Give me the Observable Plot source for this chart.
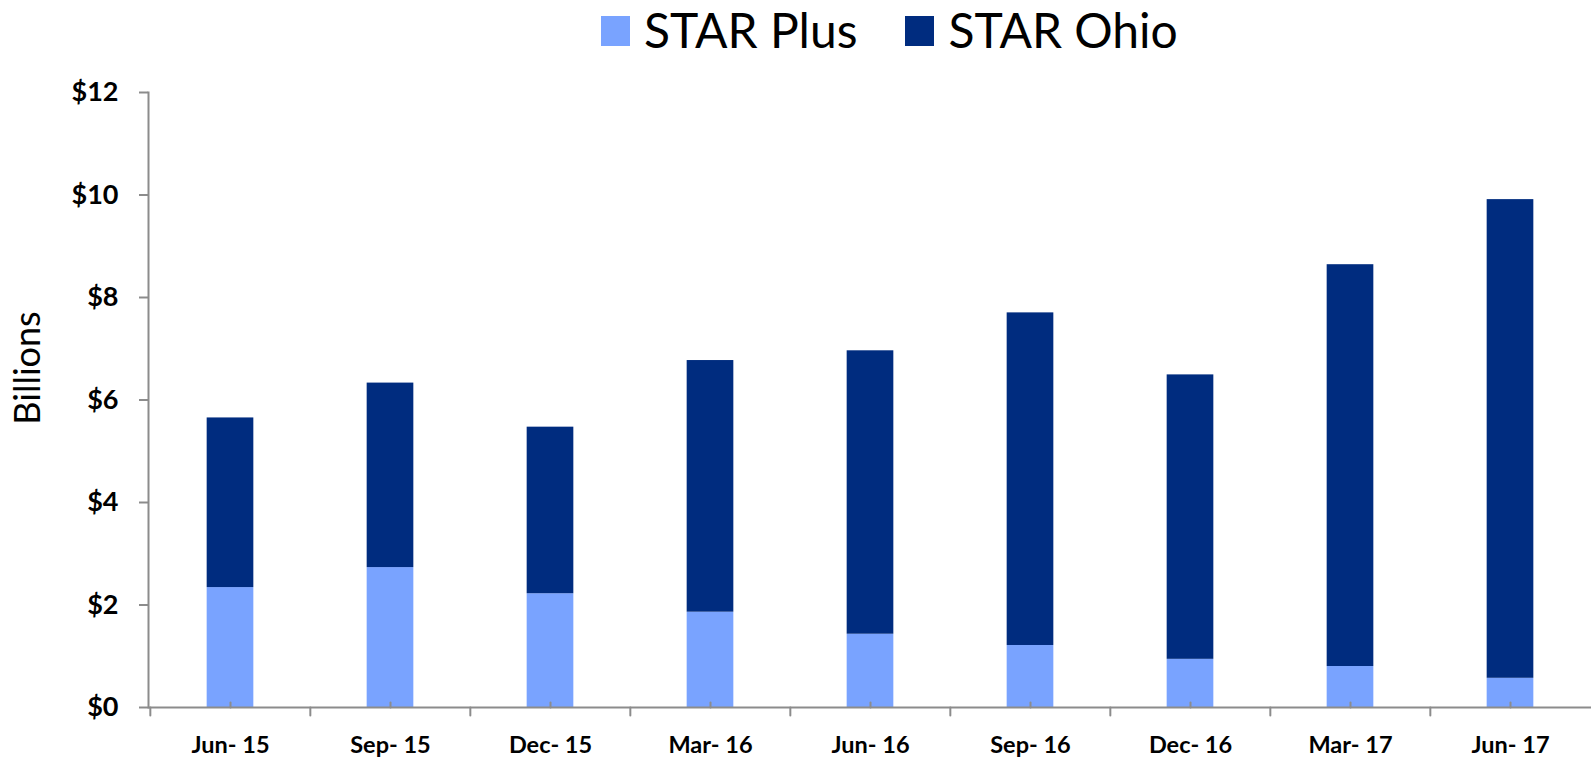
<!DOCTYPE html>
<html>
<head>
<meta charset="utf-8">
<script src="https://cdn.jsdelivr.net/npm/d3@7"></script>
<script src="https://cdn.jsdelivr.net/npm/@observablehq/plot@0.6"></script>
<style>
  html, body { margin: 0; padding: 0; background: #fff; }
  #wrap { position: relative; width: 1591px; height: 760px; font-family: Lato, "Open Sans", sans-serif; }
  #legend { position: absolute; top: 0; left: 601px; height: 60px; display: flex; align-items: center; }
  .item { display: flex; align-items: center; }
  .sw { width: 29px; height: 30px; margin-right: 14px; margin-top: 2px; }
  .lab { font-size: 48px; color: #000; line-height: 60px; }
  #chart { position: absolute; top: 0; left: 0; }
</style>
</head>
<body>
<div id="wrap">
  <div id="chart"></div>
  <div id="legend"></div>
</div>
<script>
// ---- data ----
const quarters = ["Jun- 15", "Sep- 15", "Dec- 15", "Mar- 16", "Jun- 16", "Sep- 16", "Dec- 16", "Mar- 17", "Jun- 17"];
const starPlus = [2.34, 2.73, 2.22, 1.86, 1.43, 1.21, 0.94, 0.80, 0.57];
const starOhio = [3.31, 3.60, 3.25, 4.91, 5.53, 6.49, 5.55, 7.84, 9.34];
const seriesNames = ["STAR Plus", "STAR Ohio"];
const seriesColors = ["#79A3FF", "#002C7F"];
const yTicks = [0, 2, 4, 6, 8, 10, 12];
const yTickLabels = ["$0", "$2", "$4", "$6", "$8", "$10", "$12"];
const yTitle = "Billions";

// ---- table ----
const rows = [];
quarters.forEach((q, i) => {
  rows.push({quarter: q, series: seriesNames[0], value: starPlus[i]});
  rows.push({quarter: q, series: seriesNames[1], value: starOhio[i]});
});

const W = 1591, H = 760;
const mLeft = 148, mRight = 0, mTop = 92, mBottom = 53;
const band = (W - mLeft - mRight) / quarters.length;
const barW = 47;
const inset = (band - barW) / 2;
const axisGray = "#8c8c8c";
const tickLine = {draw(ctx, l) { ctx.moveTo(0, 0); ctx.lineTo(0, -l); }};

const chart = Plot.plot({
  width: W,
  height: H,
  marginLeft: mLeft,
  marginRight: mRight,
  marginTop: mTop,
  marginBottom: mBottom,
  style: {fontFamily: "Lato, 'Open Sans', sans-serif", background: "white", overflow: "visible"},
  x: {domain: quarters, padding: 0, label: null},
  y: {domain: [0, 12], label: null},
  color: {domain: seriesNames, range: seriesColors},
  marks: [
    Plot.barY(rows, Plot.stackY({
      x: "quarter", y: "value", fill: "series", order: seriesNames,
      insetLeft: inset, insetRight: inset
    })),
    Plot.frame({anchor: "left", stroke: axisGray, strokeWidth: 2}),
    Plot.ruleY([0], {stroke: axisGray, strokeWidth: 2}),
    Plot.axisY({ticks: yTicks, tickSize: 9, text: null, stroke: axisGray, strokeWidth: 2}),
    Plot.axisY({ticks: yTicks, tickSize: 0, tickPadding: 30,
      tickFormat: d => yTickLabels[yTicks.indexOf(d)],
      fontSize: 27, fontWeight: "bold", fill: "#000"}),
    Plot.vector(quarters, {x: d => d, y: () => 0, length: 5, shape: tickLine, anchor: "start",
      stroke: axisGray, strokeWidth: 2}),
    Plot.vector(quarters, {x: d => d, y: () => 0, length: 8, rotate: 180, shape: tickLine, anchor: "start",
      dx: -band / 2, stroke: axisGray, strokeWidth: 2}),
    Plot.axisX({tickSize: 0, tickPadding: 29, fontSize: 23.5, fontWeight: "bold", fill: "#000"}),
    Plot.text([yTitle], {frameAnchor: "left", textAnchor: "middle", rotate: -90, dx: -120, dy: -32,
      fontSize: 36, fill: "#000"})
  ]
});
document.getElementById("chart").appendChild(chart);

// ---- legend ----
const legend = document.getElementById("legend");
seriesNames.forEach((name, i) => {
  const item = document.createElement("div");
  item.className = "item";
  if (i > 0) item.style.marginLeft = "48px";
  const sw = document.createElement("div");
  sw.className = "sw";
  sw.style.background = seriesColors[i];
  const lab = document.createElement("span");
  lab.className = "lab";
  lab.textContent = name;
  item.appendChild(sw);
  item.appendChild(lab);
  legend.appendChild(item);
});
</script>
</body>
</html>
